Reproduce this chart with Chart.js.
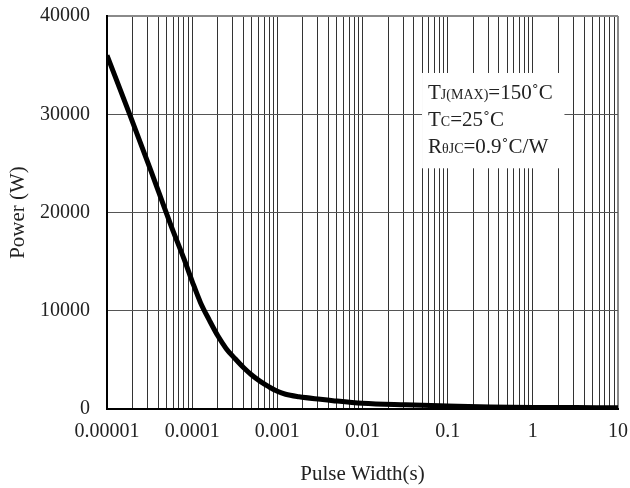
<!DOCTYPE html>
<html>
<head>
<meta charset="utf-8">
<script src="https://cdn.jsdelivr.net/npm/chart.js@4"></script>
<style>
  html, body { margin: 0; padding: 0; background: #fff; }
</style>
</head>
<body>
<canvas id="c" width="630" height="488"></canvas>
<script>
// ---- data (pulse width in s, peak power in W)
const pulseWidth = [1e-5, 1.8e-5, 3.2e-5, 5.6e-5, 8e-5, 1e-4, 1.25e-4, 1.6e-4, 2e-4, 2.5e-4, 3.2e-4,
                    4e-4, 5e-4, 6.3e-4, 8e-4, 1e-3, 1.25e-3, 1.8e-3, 3.2e-3, 4.5e-3, 1e-2, 3.2e-2,
                    0.1, 0.32, 1, 3.2, 10];
const power = [36000, 30250, 24500, 18750, 15300, 13000, 10850, 9000, 7450, 6170, 5110,
               4220, 3460, 2810, 2250, 1800, 1500, 1250, 990, 850, 580, 420,
               305, 200, 150, 141, 139];

const xDecades = [1e-5, 1e-4, 1e-3, 1e-2, 1e-1, 1, 10];
const xDecadeLabels = ["0.00001", "0.0001", "0.001", "0.01", "0.1", "1", "10"];
const yTickValues = [0, 10000, 20000, 30000, 40000];

// note box: [text, small?] runs per line
const noteLines = [
  [["T", false], ["J(MAX)", true], ["=150˚C", false]],
  [["T", false], ["C", true], ["=25˚C", false]],
  [["R", false], ["θJC", true], ["=0.9˚C/W", false]],
];

// every decade gets 1..9 minor lines, like the datasheet grid
const xTickValues = [];
xDecades.slice(0, -1).forEach(d => { for (let k = 1; k <= 9; k++) xTickValues.push(d * k); });
xTickValues.push(xDecades[xDecades.length - 1]);

const FONT = '"Liberation Serif", "Times New Roman", serif';
const isDecade = v => xDecades.findIndex(d => Math.abs(Math.log10(v) - Math.log10(d)) < 1e-6);

const notePlugin = {
  id: "note",
  beforeDatasetsDraw(chart) {
    const { ctx, scales: { x, y } } = chart;
    const l = x.getPixelForValue(0.05), r = x.getPixelForValue(2.35);
    const t = y.getPixelForValue(34200), b = y.getPixelForValue(24500);
    ctx.save();
    ctx.fillStyle = "#fff";
    ctx.fillRect(l, t, r - l, b - t);
    ctx.fillStyle = "#222";
    ctx.textBaseline = "alphabetic";
    noteLines.forEach((runs, i) => {
      let px = l + 6;
      const py = t + 26 + i * 27;
      runs.forEach(([txt, small]) => {
        ctx.font = (small ? "14px " : "21px ") + FONT;
        ctx.fillText(txt, px, py);
        px += ctx.measureText(txt).width;
      });
    });
    ctx.restore();
  },
};

new Chart(document.getElementById("c"), {
  type: "line",
  data: {
    datasets: [{
      data: pulseWidth.map((x, i) => ({ x, y: power[i] })),
      borderColor: "#000", borderWidth: 5, pointRadius: 0,
      cubicInterpolationMode: "monotone", fill: false,
    }],
  },
  options: {
    responsive: false, animation: false, devicePixelRatio: 1,
    layout: { padding: { left: 0, right: 12, top: 16, bottom: 0 } },
    plugins: { legend: { display: false }, tooltip: { enabled: false } },
    scales: {
      x: {
        type: "logarithmic", min: 1e-5, max: 10,
        afterBuildTicks: s => { s.ticks = xTickValues.map(v => ({ value: v })); },
        // fixed box: no extra label padding pushed into the chart area
        afterFit: s => { s.height = 79; s.paddingLeft = 0; s.paddingRight = 0; },
        ticks: {
          autoSkip: false, maxRotation: 0, padding: 11, color: "#222",
          font: { family: FONT, size: 20 },
          callback: v => { const i = isDecade(v); return i >= 0 ? xDecadeLabels[i] : ""; },
        },
        grid: {
          drawTicks: false,
          color: c => c.tick && c.tick.value >= 10 ? "#8a8a8a" : "#333",
          lineWidth: c => c.tick && c.tick.value >= 10 ? 2 : 1,
        },
        border: { color: "#000", width: 2 },
        title: { display: true, text: "Pulse Width(s)", color: "#222",
                 font: { family: FONT, size: 21 }, padding: { top: 0, bottom: 1 } },
      },
      y: {
        type: "linear", min: 0, max: 40000,
        afterBuildTicks: s => { s.ticks = yTickValues.map(v => ({ value: v })); },
        afterFit: s => { s.width = 107; s.paddingTop = 0; s.paddingBottom = 0; },
        ticks: { padding: 17, color: "#222", font: { family: FONT, size: 20 }, callback: v => String(v) },
        grid: {
          drawTicks: false,
          color: c => c.tick && c.tick.value === 40000 ? "#8a8a8a" : "#555",
          lineWidth: c => c.tick && c.tick.value === 40000 ? 2 : 1,
        },
        border: { color: "#000", width: 2 },
        title: { display: true, text: "Power (W)", color: "#222",
                 font: { family: FONT, size: 21 }, padding: { top: 6, bottom: 0 } },
      },
    },
  },
  plugins: [notePlugin],
});
</script>
</body>
</html>
